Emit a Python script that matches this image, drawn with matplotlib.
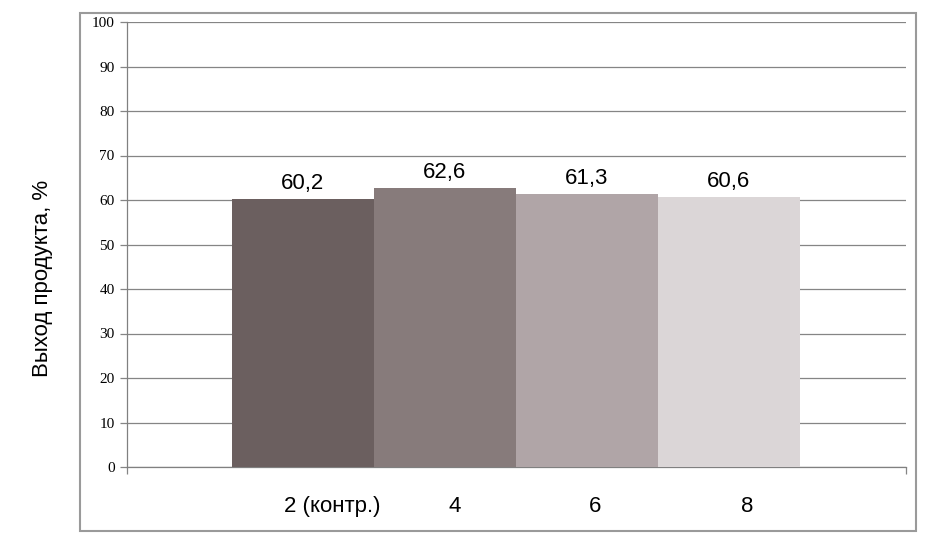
import matplotlib
matplotlib.use("Agg")
import matplotlib.pyplot as plt
from matplotlib.patches import Rectangle

# Data
categories = ["2 (контр.)", "4", "6", "8"]
values = [60.2, 62.6, 61.3, 60.6]
value_labels = ["60,2", "62,6", "61,3", "60,6"]
label_positions = [0.21, 1.07, 2.06, 3.13]
yticks = [0, 10, 20, 30, 40, 50, 60, 70, 80, 90, 100]
ylabel = "Выход продукта, %"
colors = ["#6b5f5f", "#877b7b", "#b0a5a7", "#dbd6d7"]

plt.rcParams['font.family'] = ['Liberation Sans', 'DejaVu Sans']

fig = plt.figure(figsize=(9.43, 5.5), dpi=100)
fig.patch.set_facecolor("white")

# outer frame
fig.patches.append(Rectangle((80 / 943, 1 - 531 / 550), 836 / 943, 518 / 550,
                             transform=fig.transFigure, fill=False,
                             edgecolor="#9a9a9a", linewidth=1.5, zorder=0))

ax = fig.add_axes([127 / 943, 1 - 467 / 550, (906 - 127) / 943, 445 / 550])

x = list(range(len(values)))
bars = ax.bar(x, values, width=1.0, color=colors, zorder=3, linewidth=0)

for xi, v, lab in zip(x, values, value_labels):
    ax.annotate(lab, (xi, v), xytext=(0, 4), textcoords="offset points",
                ha="center", va="bottom", fontsize=16, color="black")

xmin, xmax = -1.236, 4.25
ax.set_xlim(xmin, xmax)
ax.set_ylim(0, 100)

ax.set_yticks(yticks)
ax.set_yticklabels([str(t) for t in yticks], fontfamily="Liberation Serif", fontsize=11)
ax.yaxis.grid(True, color="#858585", linewidth=0.9, zorder=0)
ax.set_axisbelow(True)
ax.tick_params(axis="y", length=5, width=0.9, color="#858585", pad=4, direction="out")

ax.set_xticks(label_positions)
ax.set_xticklabels(categories, fontsize=16)
ax.tick_params(axis="x", length=0, pad=21)
ax.set_xticks([xmin, xmax], minor=True)
ax.tick_params(axis="x", which="minor", length=5, width=0.9, color="#858585", direction="out")

for side in ["top", "right"]:
    ax.spines[side].set_visible(False)
ax.spines["left"].set_color("#808080")
ax.spines["left"].set_linewidth(0.9)
ax.spines["bottom"].set_color("#808080")
ax.spines["bottom"].set_linewidth(0.9)

ax.set_ylabel(ylabel, fontsize=16, va="center")
ax.yaxis.set_label_coords((42 - 127) / 779, (467 - 278) / 445)

fig.savefig("out.png", dpi=100, facecolor="white")
